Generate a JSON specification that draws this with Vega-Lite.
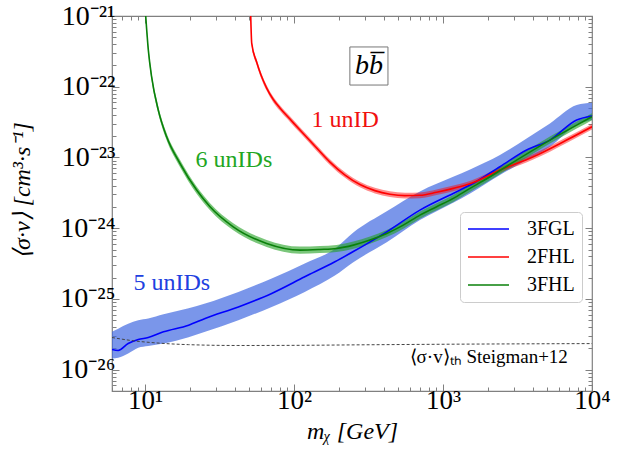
{
  "$schema": "https://vega.github.io/schema/vega-lite/v6.json",
  "width": 480,
  "height": 375,
  "autosize": {"type": "none"},
  "padding": {"left": 112, "top": 16, "right": 26, "bottom": 73},
  "background": "white",
  "config": {
    "view": {"stroke": "#808080", "strokeWidth": 1.2},
    "font": "Liberation Serif"
  },
  "datasets": {
    "curves": [
      {"set": "3FGL", "m": 6.0, "y": 1.932e-26, "lo": 1.439e-26, "hi": 3.428e-26},
      {"set": "3FGL", "m": 6.6, "y": 1.871e-26, "lo": 1.479e-26, "hi": 3.802e-26},
      {"set": "3FGL", "m": 7.7, "y": 2.350e-26, "lo": 1.698e-26, "hi": 4.467e-26},
      {"set": "3FGL", "m": 9.0, "y": 2.673e-26, "lo": 2.042e-26, "hi": 5.012e-26},
      {"set": "3FGL", "m": 10.5, "y": 2.851e-26, "lo": 2.163e-26, "hi": 5.309e-26},
      {"set": "3FGL", "m": 13.3, "y": 3.428e-26, "lo": 2.344e-26, "hi": 6.095e-26},
      {"set": "3FGL", "m": 19.6, "y": 4.256e-26, "lo": 2.884e-26, "hi": 7.413e-26},
      {"set": "3FGL", "m": 25.3, "y": 5.297e-26, "lo": 3.428e-26, "hi": 8.630e-26},
      {"set": "3FGL", "m": 42.3, "y": 7.727e-26, "lo": 5.012e-26, "hi": 1.259e-25},
      {"set": "3FGL", "m": 70.8, "y": 1.197e-25, "lo": 7.727e-26, "hi": 1.950e-25},
      {"set": "3FGL", "m": 118, "y": 2.056e-25, "lo": 1.259e-25, "hi": 3.177e-25},
      {"set": "3FGL", "m": 188, "y": 3.350e-25, "lo": 2.138e-25, "hi": 5.129e-25},
      {"set": "3FGL", "m": 250, "y": 4.677e-25, "lo": 3.311e-25, "hi": 8.710e-25},
      {"set": "3FGL", "m": 419, "y": 8.892e-25, "lo": 6.310e-25, "hi": 1.738e-24},
      {"set": "3FGL", "m": 700, "y": 1.803e-24, "lo": 1.303e-24, "hi": 3.311e-24},
      {"set": "3FGL", "m": 1170, "y": 3.105e-24, "lo": 2.291e-24, "hi": 5.333e-24},
      {"set": "3FGL", "m": 1520, "y": 4.074e-24, "lo": 3.090e-24, "hi": 6.761e-24},
      {"set": "3FGL", "m": 2410, "y": 7.396e-24, "lo": 5.636e-24, "hi": 1.081e-23},
      {"set": "3FGL", "m": 3640, "y": 1.274e-23, "lo": 9.183e-24, "hi": 1.862e-23},
      {"set": "3FGL", "m": 5220, "y": 1.762e-23, "lo": 1.416e-23, "hi": 3.034e-23},
      {"set": "3FGL", "m": 7890, "y": 3.381e-23, "lo": 2.871e-23, "hi": 5.508e-23},
      {"set": "3FGL", "m": 10000, "y": 3.855e-23, "lo": 3.381e-23, "hi": 5.943e-23},

      {"set": "2FHL", "m": 51.2, "y": 1.0e-21, "lo": 9.12e-22, "hi": 1.096e-21},
      {"set": "2FHL", "m": 52.0, "y": 4.11e-22, "lo": 3.75e-22, "hi": 4.50e-22},
      {"set": "2FHL", "m": 56.1, "y": 2.23e-22, "lo": 2.03e-22, "hi": 2.44e-22},
      {"set": "2FHL", "m": 60.0, "y": 1.462e-22, "lo": 1.334e-22, "hi": 1.602e-22},
      {"set": "2FHL", "m": 65.5, "y": 9.59e-23, "lo": 8.75e-23, "hi": 1.051e-22},
      {"set": "2FHL", "m": 72.2, "y": 6.70e-23, "lo": 6.11e-23, "hi": 7.34e-23},
      {"set": "2FHL", "m": 80.4, "y": 5.00e-23, "lo": 4.56e-23, "hi": 5.48e-23},
      {"set": "2FHL", "m": 93.9, "y": 3.49e-23, "lo": 3.18e-23, "hi": 3.83e-23},
      {"set": "2FHL", "m": 109.6, "y": 2.44e-23, "lo": 2.23e-23, "hi": 2.67e-23},
      {"set": "2FHL", "m": 141.9, "y": 1.358e-23, "lo": 1.239e-23, "hi": 1.488e-23},
      {"set": "2FHL", "m": 174.2, "y": 8.61e-24, "lo": 7.86e-24, "hi": 9.44e-24},
      {"set": "2FHL", "m": 220, "y": 5.64e-24, "lo": 5.15e-24, "hi": 6.18e-24},
      {"set": "2FHL", "m": 277, "y": 4.14e-24, "lo": 3.78e-24, "hi": 4.54e-24},
      {"set": "2FHL", "m": 349, "y": 3.40e-24, "lo": 3.10e-24, "hi": 3.73e-24},
      {"set": "2FHL", "m": 440, "y": 3.03e-24, "lo": 2.76e-24, "hi": 3.32e-24},
      {"set": "2FHL", "m": 555, "y": 2.89e-24, "lo": 2.64e-24, "hi": 3.17e-24},
      {"set": "2FHL", "m": 700, "y": 2.92e-24, "lo": 2.66e-24, "hi": 3.20e-24},
      {"set": "2FHL", "m": 906, "y": 3.22e-24, "lo": 2.94e-24, "hi": 3.53e-24},
      {"set": "2FHL", "m": 1172, "y": 3.66e-24, "lo": 3.34e-24, "hi": 4.01e-24},
      {"set": "2FHL", "m": 1517, "y": 4.25e-24, "lo": 3.88e-24, "hi": 4.66e-24},
      {"set": "2FHL", "m": 2411, "y": 6.64e-24, "lo": 6.06e-24, "hi": 7.28e-24},
      {"set": "2FHL", "m": 4036, "y": 1.023e-23, "lo": 9.33e-24, "hi": 1.121e-23},
      {"set": "2FHL", "m": 6761, "y": 1.762e-23, "lo": 1.608e-23, "hi": 1.931e-23},
      {"set": "2FHL", "m": 10000, "y": 2.72e-23, "lo": 2.48e-23, "hi": 2.98e-23},

      {"set": "3FHL", "m": 10.1, "y": 1.0e-21, "lo": 8.91e-22, "hi": 1.122e-21},
      {"set": "3FHL", "m": 10.52, "y": 3.30e-22, "lo": 2.94e-22, "hi": 3.70e-22},
      {"set": "3FHL", "m": 11.07, "y": 1.38e-22, "lo": 1.23e-22, "hi": 1.55e-22},
      {"set": "3FHL", "m": 12.27, "y": 4.68e-23, "lo": 4.17e-23, "hi": 5.25e-23},
      {"set": "3FHL", "m": 13.96, "y": 1.96e-23, "lo": 1.75e-23, "hi": 2.20e-23},
      {"set": "3FHL", "m": 17.15, "y": 8.26e-24, "lo": 7.36e-24, "hi": 9.27e-24},
      {"set": "3FHL", "m": 22.2, "y": 3.46e-24, "lo": 3.08e-24, "hi": 3.88e-24},
      {"set": "3FHL", "m": 27.3, "y": 2.01e-24, "lo": 1.79e-24, "hi": 2.26e-24},
      {"set": "3FHL", "m": 39.1, "y": 1.047e-24, "lo": 9.33e-25, "hi": 1.175e-24},
      {"set": "3FHL", "m": 65.5, "y": 6.10e-25, "lo": 5.44e-25, "hi": 6.84e-25},
      {"set": "3FHL", "m": 109.6, "y": 4.90e-25, "lo": 4.37e-25, "hi": 5.50e-25},
      {"set": "3FHL", "m": 149.3, "y": 5.01e-25, "lo": 4.47e-25, "hi": 5.62e-25},
      {"set": "3FHL", "m": 193, "y": 5.18e-25, "lo": 4.62e-25, "hi": 5.81e-25},
      {"set": "3FHL", "m": 250, "y": 5.77e-25, "lo": 5.14e-25, "hi": 6.47e-25},
      {"set": "3FHL", "m": 323.6, "y": 6.79e-25, "lo": 6.05e-25, "hi": 7.62e-25},
      {"set": "3FHL", "m": 419, "y": 8.43e-25, "lo": 7.51e-25, "hi": 9.46e-25},
      {"set": "3FHL", "m": 541, "y": 1.107e-24, "lo": 9.87e-25, "hi": 1.242e-24},
      {"set": "3FHL", "m": 700, "y": 1.531e-24, "lo": 1.365e-24, "hi": 1.718e-24},
      {"set": "3FHL", "m": 906, "y": 2.01e-24, "lo": 1.79e-24, "hi": 2.26e-24},
      {"set": "3FHL", "m": 1172, "y": 2.64e-24, "lo": 2.35e-24, "hi": 2.96e-24},
      {"set": "3FHL", "m": 1517, "y": 3.66e-24, "lo": 3.26e-24, "hi": 4.11e-24},
      {"set": "3FHL", "m": 1862, "y": 4.68e-24, "lo": 4.17e-24, "hi": 5.25e-24},
      {"set": "3FHL", "m": 3119, "y": 9.18e-24, "lo": 8.18e-24, "hi": 1.03e-23},
      {"set": "3FHL", "m": 5220, "y": 1.762e-23, "lo": 1.57e-23, "hi": 1.977e-23},
      {"set": "3FHL", "m": 7888, "y": 2.87e-23, "lo": 2.56e-23, "hi": 3.22e-23},
      {"set": "3FHL", "m": 10000, "y": 3.77e-23, "lo": 3.36e-23, "hi": 4.23e-23}
    ],
    "thermal": [
      {"m": 6, "y": 2.85e-26},
      {"m": 8.4, "y": 2.56e-26},
      {"m": 11.6, "y": 2.40e-26},
      {"m": 19.6, "y": 2.26e-26},
      {"m": 42, "y": 2.20e-26},
      {"m": 100, "y": 2.21e-26},
      {"m": 300, "y": 2.25e-26},
      {"m": 1000, "y": 2.29e-26},
      {"m": 10000, "y": 2.34e-26}
    ]
  },
  "layer": [
    {
      "data": {"name": "curves"},
      "mark": {"type": "area", "clip": true, "interpolate": "monotone"},
      "encoding": {
        "x": {
          "field": "m", "type": "quantitative",
          "scale": {"type": "log", "domain": [6, 10000], "nice": false},
          "axis": {
            "orient": "bottom",
            "values": [6,7,8,9,10,20,30,40,50,60,70,80,90,100,200,300,400,500,600,700,800,900,1000,2000,3000,4000,5000,6000,7000,8000,9000,10000],
            "labelExpr": "datum.value == 10 ? '10¹' : datum.value == 100 ? '10²' : datum.value == 1000 ? '10³' : datum.value == 10000 ? '10⁴' : ''",
            "grid": false, "domain": false,
            "tickColor": "#808080",
            "tickSize": {"condition": {"test": "abs(log(datum.value)/LN10 - round(log(datum.value)/LN10)) < 0.001", "value": -7}, "value": -4},
            "labelFont": "Liberation Serif", "labelFontSize": 27, "labelColor": "black",
            "labelPadding": 3, "labelFlush": false, "labelOverlap": false,
            "title": "mᵪ [GeV]",
            "titleFont": "Liberation Serif", "titleFontStyle": "italic", "titleFontWeight": "normal",
            "titleFontSize": 24, "titleColor": "black",
            "titleY": 47, "titleBaseline": "alphabetic"
          }
        },
        "y": {
          "field": "lo", "type": "quantitative",
          "scale": {"type": "log", "domain": [5e-27, 1e-21], "nice": false},
          "axis": {
            "orient": "left",
            "values": [5e-27,6e-27,7e-27,8e-27,9e-27,1e-26,2e-26,3e-26,4e-26,5e-26,6e-26,7e-26,8e-26,9e-26,1e-25,2e-25,3e-25,4e-25,5e-25,6e-25,7e-25,8e-25,9e-25,1e-24,2e-24,3e-24,4e-24,5e-24,6e-24,7e-24,8e-24,9e-24,1e-23,2e-23,3e-23,4e-23,5e-23,6e-23,7e-23,8e-23,9e-23,1e-22,2e-22,3e-22,4e-22,5e-22,6e-22,7e-22,8e-22,9e-22,1e-21],
            "labelExpr": "abs(log(datum.value)/LN10 - round(log(datum.value)/LN10)) < 0.001 ? ['10⁻²⁶','10⁻²⁵','10⁻²⁴','10⁻²³','10⁻²²','10⁻²¹'][round(log(datum.value)/LN10)+26] : ''",
            "grid": false, "domain": false,
            "tickColor": "#808080",
            "tickSize": {"condition": {"test": "abs(log(datum.value)/LN10 - round(log(datum.value)/LN10)) < 0.001", "value": -7}, "value": -4},
            "labelFont": "Liberation Serif", "labelFontSize": 28, "labelColor": "black",
            "labelPadding": 4, "labelFlush": false, "labelOverlap": false,
            "title": "⟨σ·v⟩ [cm³·s⁻¹]",
            "titleFont": "Liberation Serif", "titleFontStyle": "italic", "titleFontWeight": "normal",
            "titleFontSize": 24, "titleColor": "black",
            "titleAngle": 270, "titleX": -90, "titleY": 174,
            "titleAlign": "center", "titleBaseline": "middle"
          }
        },
        "y2": {"field": "hi"},
        "fill": {
          "field": "set", "type": "nominal",
          "scale": {"domain": ["3FGL", "2FHL", "3FHL"], "range": ["rgba(65,105,225,0.7)", "rgba(255,0,0,0.45)", "rgba(34,160,34,0.6)"]},
          "legend": {
            "orient": "none", "legendX": 348, "legendY": 196, "title": null,
            "symbolType": "stroke", "symbolSize": 1681, "symbolStrokeWidth": 1.6,
            "labelFont": "Liberation Serif", "labelFontSize": 20, "labelColor": "black", "labelOffset": 17,
            "padding": 7, "strokeColor": "#cccccc", "fillColor": "white", "cornerRadius": 4,
            "clipHeight": 20, "rowPadding": 8
          }
        }
      }
    },
    {
      "data": {"name": "curves"},
      "mark": {"type": "line", "clip": true, "interpolate": "monotone", "strokeWidth": 1.6},
      "encoding": {
        "x": {
          "field": "m", "type": "quantitative",
          "axis": {
            "orient": "top",
            "values": [6,7,8,9,10,20,30,40,50,60,70,80,90,100,200,300,400,500,600,700,800,900,1000,2000,3000,4000,5000,6000,7000,8000,9000,10000],
            "labels": false, "grid": false, "domain": false, "title": null,
            "tickColor": "#808080",
            "tickSize": {"condition": {"test": "abs(log(datum.value)/LN10 - round(log(datum.value)/LN10)) < 0.001", "value": -7}, "value": -4}
          }
        },
        "y": {
          "field": "y", "type": "quantitative",
          "axis": {
            "orient": "right",
            "values": [5e-27,6e-27,7e-27,8e-27,9e-27,1e-26,2e-26,3e-26,4e-26,5e-26,6e-26,7e-26,8e-26,9e-26,1e-25,2e-25,3e-25,4e-25,5e-25,6e-25,7e-25,8e-25,9e-25,1e-24,2e-24,3e-24,4e-24,5e-24,6e-24,7e-24,8e-24,9e-24,1e-23,2e-23,3e-23,4e-23,5e-23,6e-23,7e-23,8e-23,9e-23,1e-22,2e-22,3e-22,4e-22,5e-22,6e-22,7e-22,8e-22,9e-22,1e-21],
            "labels": false, "grid": false, "domain": false, "title": null,
            "tickColor": "#808080",
            "tickSize": {"condition": {"test": "abs(log(datum.value)/LN10 - round(log(datum.value)/LN10)) < 0.001", "value": -7}, "value": -4}
          }
        },
        "stroke": {
          "field": "set", "type": "nominal",
          "scale": {"domain": ["3FGL", "2FHL", "3FHL"], "range": ["#0000ff", "#ff0000", "#0a800a"]},
          "legend": {
            "orient": "none", "legendX": 348, "legendY": 196, "title": null,
            "symbolType": "stroke", "symbolSize": 1681, "symbolStrokeWidth": 1.6,
            "labelFont": "Liberation Serif", "labelFontSize": 20, "labelColor": "black", "labelOffset": 17,
            "padding": 7, "strokeColor": "#cccccc", "fillColor": "white", "cornerRadius": 4,
            "clipHeight": 20, "rowPadding": 8
          }
        }
      }
    },
    {
      "data": {"name": "thermal"},
      "mark": {"type": "line", "clip": true, "color": "#444444", "strokeWidth": 1, "strokeDash": [3, 2], "interpolate": "monotone"},
      "encoding": {
        "x": {"field": "m", "type": "quantitative", "axis": null},
        "y": {"field": "y", "type": "quantitative", "axis": null}
      }
    },
    {
      "data": {"values": [{"m1": 237, "m2": 427, "y1": 1.057e-22, "y2": 3.65e-22}]},
      "mark": {"type": "rect", "fill": "white", "stroke": "#777777", "strokeWidth": 1},
      "encoding": {
        "x": {"field": "m1", "type": "quantitative", "axis": null},
        "x2": {"field": "m2"},
        "y": {"field": "y1", "type": "quantitative", "axis": null},
        "y2": {"field": "y2"}
      }
    },
    {
      "data": {"values": [{"m": 318, "y": 1.96e-22, "label": "bb̅"}]},
      "mark": {"type": "text", "font": "Liberation Serif", "fontStyle": "italic", "fontSize": 28, "color": "black", "align": "center", "baseline": "middle"},
      "encoding": {
        "x": {"field": "m", "type": "quantitative", "axis": null},
        "y": {"field": "y", "type": "quantitative", "axis": null},
        "text": {"field": "label"}
      }
    },
    {
      "data": {"values": [{"m": 220, "y": 3.38e-23, "label": "1 unID"}]},
      "mark": {"type": "text", "font": "Liberation Serif", "fontSize": 24, "color": "#f01010", "align": "center", "baseline": "middle"},
      "encoding": {
        "x": {"field": "m", "type": "quantitative", "axis": null},
        "y": {"field": "y", "type": "quantitative", "axis": null},
        "text": {"field": "label"}
      }
    },
    {
      "data": {"values": [{"m": 39.5, "y": 9.2e-24, "label": "6 unIDs"}]},
      "mark": {"type": "text", "font": "Liberation Serif", "fontSize": 24, "color": "#22a622", "align": "center", "baseline": "middle"},
      "encoding": {
        "x": {"field": "m", "type": "quantitative", "axis": null},
        "y": {"field": "y", "type": "quantitative", "axis": null},
        "text": {"field": "label"}
      }
    },
    {
      "data": {"values": [{"m": 15.1, "y": 1.66e-25, "label": "5 unIDs"}]},
      "mark": {"type": "text", "font": "Liberation Serif", "fontSize": 24, "color": "#2040e0", "align": "center", "baseline": "middle"},
      "encoding": {
        "x": {"field": "m", "type": "quantitative", "axis": null},
        "y": {"field": "y", "type": "quantitative", "axis": null},
        "text": {"field": "label"}
      }
    },
    {
      "data": {"values": [{"m": 6887, "y": 1.52e-26, "label": "⟨σ·v⟩ₜₕ Steigman+12"}]},
      "mark": {"type": "text", "font": "Liberation Serif", "fontSize": 19, "color": "black", "align": "right", "baseline": "middle"},
      "encoding": {
        "x": {"field": "m", "type": "quantitative", "axis": null},
        "y": {"field": "y", "type": "quantitative", "axis": null},
        "text": {"field": "label"}
      }
    }
  ],
  "resolve": {"axis": {"x": "independent", "y": "independent"}}
}
